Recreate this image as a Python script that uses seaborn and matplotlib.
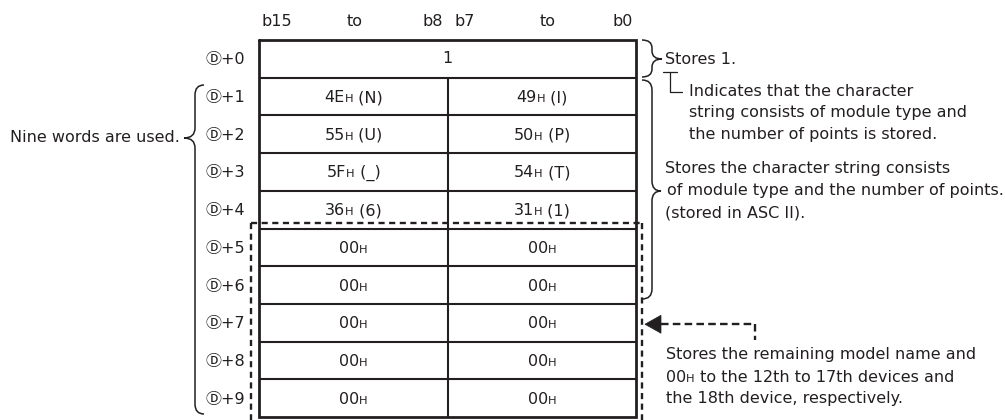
import matplotlib
matplotlib.use("Agg")
import matplotlib.pyplot as plt
import seaborn as sns
from matplotlib.path import Path
from matplotlib.patches import PathPatch, Polygon
from matplotlib.offsetbox import TextArea, HPacker, AnnotationBbox

# ---------------- data ----------------
bit_labels = ["b15", "to", "b8", "b7", "to", "b0"]
row_labels = ["Ⓓ+0", "Ⓓ+1", "Ⓓ+2", "Ⓓ+3", "Ⓓ+4",
              "Ⓓ+5", "Ⓓ+6", "Ⓓ+7", "Ⓓ+8", "Ⓓ+9"]
word0_value = "1"
high_hex = ["4E", "55", "5F", "36", "00", "00", "00", "00", "00"]
high_chr = ["N", "U", "_", "6", "", "", "", "", ""]
low_hex = ["49", "50", "54", "31", "00", "00", "00", "00", "00"]
low_chr = ["I", "P", "T", "1", "", "", "", "", ""]

note_word0 = "Stores 1."
note_indicates = ["Indicates that the character",
                  "string consists of module type and",
                  "the number of points is stored."]
note_string = ["Stores the character string consists",
               "of module type and the number of points.",
               "(stored in ASC II)."]
note_remaining = ["Stores the remaining model name and",
                  ("00", "H", " to the 12th to 17th devices and"),
                  "the 18th device, respectively."]
note_left = "Nine words are used."

# ---------------- style ----------------
sns.set_theme(style="white")
FAMILIES = ["DejaVu Sans", "Noto Sans CJK JP"]
plt.rcParams["font.family"] = FAMILIES
FS = 11.5
FS_SMALL = 8.2
INK = "#231f20"

fig = plt.figure(figsize=(10.05, 4.2), dpi=100)
ax = fig.add_axes([0, 0, 1, 1])
ax.set_xlim(0, 1005)
ax.set_ylim(420, 0)
ax.set_axis_off()

# layout geometry
XL, XM, XR = 259, 448, 636
YT, RH = 40, 37.7
n_rows = len(row_labels)
YB = YT + RH * n_rows


def row_y(i):
    return YT + RH * i


def row_c(i):
    return YT + RH * (i + 0.5)


# header
bit_x = [277, 355, 433, 465, 548, 623]
for lab, x in zip(bit_labels, bit_x):
    ax.text(x, 21, lab, ha="center", va="center", fontsize=FS, color=INK)

# table lines
inner_lw, outer_lw = 1.5, 2.0
for i in range(1, n_rows):
    ax.plot([XL, XR], [row_y(i), row_y(i)], color=INK, lw=inner_lw,
            solid_capstyle="butt")
ax.plot([XM, XM], [row_y(1), YB], color=INK, lw=inner_lw)
ax.plot([XL, XR, XR, XL, XL], [YT, YT, YB, YB, YT], color=INK, lw=outer_lw,
        solid_joinstyle="miter")


def rich(x, y, parts, ha_align=0.5):
    kids = []
    for txt, small in parts:
        kids.append(TextArea(txt, textprops=dict(fontsize=FS_SMALL if small else FS,
                                                 color=INK, family=FAMILIES)))
    box = HPacker(children=kids, align="baseline", pad=0, sep=0)
    ab = AnnotationBbox(box, (x, y), xycoords="data", frameon=False,
                        box_alignment=(ha_align, 0.5), pad=0)
    ax.add_artist(ab)


# cell contents
ax.text((XL + XR) / 2, row_c(0), word0_value, ha="center", va="center",
        fontsize=FS, color=INK)
for i in range(len(high_hex)):
    y = row_c(i + 1) + 1
    for hx, ch, xc in ((high_hex[i], high_chr[i], (XL + XM) / 2),
                       (low_hex[i], low_chr[i], (XM + XR) / 2)):
        parts = [(hx, False), ("H", True)]
        if ch:
            parts.append((f" ({ch})", False))
        rich(xc, y, parts)

# row labels
for i, lab in enumerate(row_labels):
    ax.text(245, row_c(i) + 1, lab, ha="right", va="center", fontsize=FS,
            color=INK, family=FAMILIES)

# dashed box around Ⓓ+5 .. Ⓓ+9
dash = (0, (2.6, 1.9))
ax.plot([251, 251], [223, 425], color=INK, lw=1.7, linestyle=dash)
ax.plot([642, 642], [223, 425], color=INK, lw=1.7, linestyle=dash)
ax.plot([251, 642], [223, 223], color=INK, lw=1.7, linestyle=dash)


def brace(x_end, x_mid, x_tip, y_top, y_bot, y_tip, r=9, lw=1.1):
    verts = [(x_end, y_top),
             (x_mid, y_top), (x_mid, y_top + r),
             (x_mid, y_tip - r),
             (x_mid, y_tip), (x_tip, y_tip),
             (x_mid, y_tip), (x_mid, y_tip + r),
             (x_mid, y_bot - r),
             (x_mid, y_bot), (x_end, y_bot)]
    codes = [Path.MOVETO, Path.CURVE3, Path.CURVE3, Path.LINETO,
             Path.CURVE3, Path.CURVE3, Path.CURVE3, Path.CURVE3,
             Path.LINETO, Path.CURVE3, Path.CURVE3]
    ax.add_patch(PathPatch(Path(verts, codes), fill=False, edgecolor=INK, lw=lw))


# right braces
brace(642, 652, 662, 40, 77, 59, r=8)
brace(642, 652, 661, 80, 299, 191, r=10)
# left brace
brace(204, 195, 184, 85, 414, 138, r=10)

# notes
ax.text(665, 59, note_word0, ha="left", va="center", fontsize=FS, color=INK)
ax.plot([663, 677], [72, 72], color=INK, lw=0.9)
ax.plot([670, 670, 682], [72, 92, 92], color=INK, lw=0.9)
for k, line in enumerate(note_indicates):
    ax.text(689, 91 + 22 * k, line, ha="left", va="center", fontsize=FS, color=INK)
for k, line in enumerate(note_string):
    ax.text(665 if k != 1 else 667, 168 + 22.5 * k, line, ha="left", va="center",
            fontsize=FS, color=INK)

# arrow to Ⓓ+7
ya = row_c(7) + 1.5
ax.add_patch(Polygon([(645, ya), (661, ya - 9), (661, ya + 9)], closed=True,
                     facecolor=INK, edgecolor=INK, lw=0.5))
ax.plot([661, 755], [ya, ya], color=INK, lw=1.7, linestyle=(0, (3.2, 1.8)))
ax.plot([755, 755], [ya, ya + 16], color=INK, lw=1.7, linestyle=(0, (3.2, 1.8)))

for k, line in enumerate(note_remaining):
    y = 355 + 22 * k
    if isinstance(line, tuple):
        rich(666, y, [(line[0], False), (line[1], True), (line[2], False)],
             ha_align=0.0)
    else:
        ax.text(666, y, line, ha="left", va="center", fontsize=FS, color=INK)

ax.text(180, 137, note_left, ha="right", va="center", fontsize=FS, color=INK)

fig.savefig("out.png", dpi=100, facecolor="white")
